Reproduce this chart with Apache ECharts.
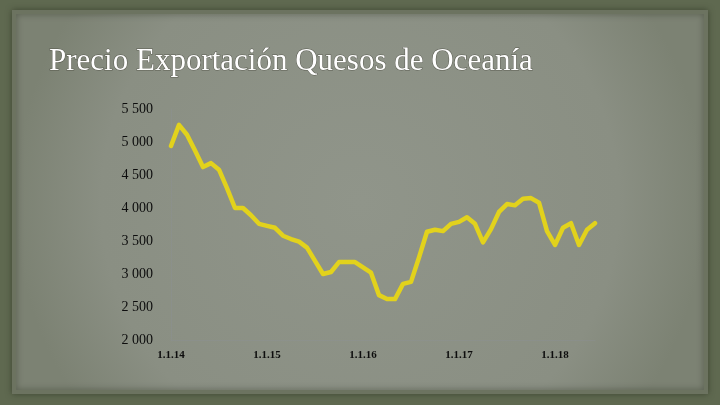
<!DOCTYPE html>
<html>
<head>
<meta charset="utf-8">
<script src="https://cdn.jsdelivr.net/npm/echarts@6/dist/echarts.min.js"></script>
<style>
  html, body { margin: 0; padding: 0; background: #5f6950; }
  #chart { width: 720px; height: 405px; }
</style>
</head>
<body>
<div id="chart"></div>
<script>
// precio mensual, ene 2014 -> jun 2018
var months = [];
for (var i = 0; i < 54; i++) {
    var y = 14 + Math.floor(i / 12);
    months.push((i % 12 + 1) + '.1.' + y);
}
var precios = [
    4940, 5260, 5110, 4870, 4620, 4680, 4580, 4300, 4000, 4000, 3890, 3760,
    3730, 3700, 3580, 3530, 3490, 3400, 3200, 3000, 3030, 3180, 3180, 3180,
    3100, 3020, 2680, 2620, 2620, 2850, 2880, 3250, 3640, 3670, 3650, 3760,
    3790, 3860, 3760, 3480, 3680, 3940, 4060, 4040, 4140, 4150, 4080, 3650,
    3440, 3700, 3770, 3440, 3670, 3770
];
var etiquetasX = { 0: '1.1.14', 12: '1.1.15', 24: '1.1.16', 36: '1.1.17', 48: '1.1.18' };

var chartDom = document.getElementById('chart');
var myChart = echarts.init(chartDom);
var option;

option = {
    backgroundColor: '#5f6950',
    animation: false,
    graphic: [
        {
            type: 'rect',
            z: -10,
            shape: { x: 14, y: 12, width: 692, height: 380 },
            style: {
                fill: {
                    type: 'radial', x: 0.5, y: 0.5, r: 0.9,
                    colorStops: [
                        { offset: 0, color: '#90958a' },
                        { offset: 0.75, color: '#8a8f83' },
                        { offset: 1, color: '#7c8273' }
                    ]
                },
                stroke: '#6c7360',
                lineWidth: 4,
                shadowBlur: 6,
                shadowColor: 'rgba(40,45,30,0.5)'
            }
        }
    ],
    title: {
        text: 'Precio Exportación Quesos de Oceanía',
        left: 44,
        top: 41,
        textStyle: {
            fontFamily: 'Liberation Serif',
            fontWeight: 'normal',
            fontSize: 31,
            color: '#ffffff',
            textBorderColor: 'rgba(70,70,60,0.7)',
            textBorderWidth: 1
        }
    },
    grid: {
        left: 171,
        right: 125,
        top: 109,
        bottom: 65
    },
    xAxis: {
        type: 'category',
        boundaryGap: false,
        data: months,
        axisLine: { show: true, lineStyle: { color: 'rgba(140,145,165,0.22)' } },
        axisTick: { show: false },
        axisLabel: {
            interval: 0,
            margin: 10,
            fontFamily: 'Liberation Serif',
            fontWeight: 'bold',
            fontSize: 11,
            color: '#0d0d0d',
            formatter: function (v, idx) {
                return etiquetasX[idx] || '';
            }
        }
    },
    yAxis: {
        type: 'value',
        min: 2000,
        max: 5500,
        interval: 500,
        axisLine: { show: true, lineStyle: { color: 'rgba(140,145,165,0.22)' } },
        axisTick: { show: false },
        splitLine: { show: false },
        axisLabel: {
            margin: 18,
            fontFamily: 'Liberation Serif',
            fontSize: 14,
            color: '#0d0d0d',
            formatter: function (v) {
                return String(v).replace(/\B(?=(\d{3})+(?!\d))/g, ' ');
            }
        }
    },
    series: [
        {
            name: 'Precio',
            type: 'line',
            data: precios,
            showSymbol: false,
            smooth: false,
            lineStyle: { color: '#e2d21c', width: 4.5, cap: 'round', join: 'round' }
        }
    ]
};

option && myChart.setOption(option);
</script>
</body>
</html>
